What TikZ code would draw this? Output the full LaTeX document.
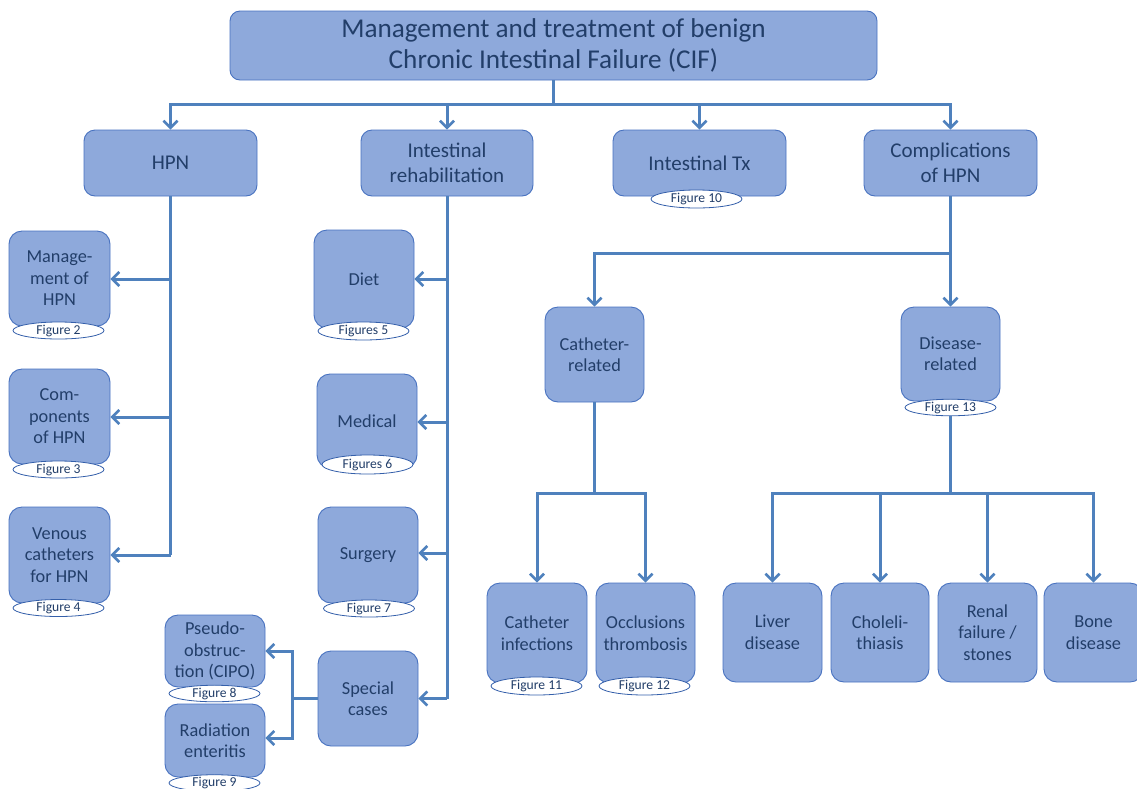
\documentclass[tikz,border=0pt]{standalone}
\usepackage{fontspec}
\setmainfont{Carlito}
\usetikzlibrary{arrows.meta,shapes.geometric}
\definecolor{boxfill}{RGB}{142,169,219}
\definecolor{boxdraw}{RGB}{72,114,192}
\definecolor{txt}{RGB}{34,62,105}
\definecolor{conncol}{RGB}{79,129,189}
\definecolor{figdraw}{RGB}{52,95,170}
\begin{document}
\begin{tikzpicture}[x=1pt,y=-1pt,
  box/.style={draw=boxdraw, line width=0.9pt, fill=boxfill, rounded corners=13pt,
    text=txt, align=center, inner sep=0pt,
    font=\fontsize{18.3}{21.5}\selectfont},
  midbox/.style={box, rounded corners=11pt, font=\fontsize{21}{25}\selectfont},
  bigbox/.style={box, rounded corners=10pt, font=\fontsize{27.2}{31.5}\selectfont},
  figlab/.style={draw=figdraw, line width=0.8pt, fill=white, ellipse, inner sep=0pt,
    minimum width=91pt, minimum height=17pt, text=txt,
    font=\fontsize{13.6}{14}\selectfont},
  conn/.style={draw=conncol, line width=3pt},
  arr/.style={conn, -{Straight Barb[length=7pt,width=14pt,line width=2.6pt]}}
]
\useasboundingbox (0,0) rectangle (1137,788);

% boxes
\node[bigbox, minimum width=647pt, minimum height=69pt] (title) at (553.5,45.5)
  {Management and treatment of benign\\Chronic Intestinal Failure (CIF)};
\node[midbox, minimum width=173pt, minimum height=66pt] (hpn) at (170.5,163) {HPN};
\node[midbox, minimum width=172pt, minimum height=66pt] (ir) at (447,163) {Intestinal\\rehabilitation};
\node[midbox, minimum width=173pt, minimum height=66pt] (tx) at (699.5,163) {Intestinal Tx};
\node[midbox, minimum width=173pt, minimum height=66pt] (comp) at (950.5,163) {Complications\\of HPN};

\node[box, minimum width=101pt, minimum height=95pt] (mgmt) at (59.5,278.5) {Manage-\\ment of\\HPN};
\node[box, minimum width=101pt, minimum height=95pt] (compo) at (59.5,416.5) {Com-\\ponents\\of HPN};
\node[box, minimum width=101pt, minimum height=96pt] (venous) at (59.5,555) {Venous\\catheters\\for HPN};

\node[box, minimum width=100pt, minimum height=98pt] (diet) at (364,279) {Diet};
\node[box, minimum width=100pt, minimum height=94pt] (medical) at (367,421) {Medical};
\node[box, minimum width=100pt, minimum height=96pt] (surgery) at (368,555) {Surgery};
\node[box, minimum width=100pt, minimum height=95pt] (special) at (368,698.5) {Special\\cases};
\node[box, minimum width=100pt, minimum height=72pt] (pseudo) at (215,651) {Pseudo-\\obstruc-\\tion (CIPO)};
\node[box, minimum width=100pt, minimum height=73pt] (radiation) at (215,740.5) {Radiation\\enteritis};

\node[box, minimum width=99pt, minimum height=95pt] (catrel) at (594.5,354.5) {Catheter-\\related};
\node[box, minimum width=99pt, minimum height=94pt] (disrel) at (950.5,354) {Disease-\\related};

\node[box, minimum width=100pt, minimum height=100pt] (catinf) at (537,633) {Catheter\\infections};
\node[box, minimum width=99pt, minimum height=100pt] (occl) at (645.5,633) {Occlusions\\thrombosis};

\node[box, minimum width=99pt, minimum height=99pt] (liver) at (772.5,632.5) {Liver\\disease};
\node[box, minimum width=98pt, minimum height=99pt] (chole) at (880,632.5) {Choleli-\\thiasis};
\node[box, minimum width=99pt, minimum height=99pt] (renal) at (987.5,632.5) {Renal\\failure /\\stones};
\node[box, minimum width=99pt, minimum height=99pt] (bone) at (1093.5,632.5) {Bone\\disease};

% figure labels
\node[figlab] (f2) at (58.5,330.5) {Figure 2};
\node[figlab] (f3) at (58.5,469.5) {Figure 3};
\node[figlab] (f4) at (58.5,608) {Figure 4};
\node[figlab, minimum height=18pt] (f5) at (363.5,331) {Figures 5};
\node[figlab, minimum height=19pt] (f6) at (367.5,464.5) {Figures 6};
\node[figlab] (f7) at (369,608.5) {Figure 7};
\node[figlab, minimum height=15pt] (f8) at (214.5,693.5) {Figure 8};
\node[figlab, minimum height=16pt] (f9) at (214.5,783) {Figure 9};
\node[figlab, minimum height=18pt] (f10) at (696.5,199) {Figure 10};
\node[figlab, minimum height=18pt] (f11) at (536.5,686) {Figure 11};
\node[figlab, minimum height=18pt] (f12) at (644.5,686) {Figure 12};
\node[figlab, minimum height=15pt] (f13) at (950.5,407.5) {Figure 13};

% connectors: top level
\coordinate (top) at (553.5,104);
\draw[conn] (title.south) -- (top);
\draw[arr] (top) -| (hpn.north);
\draw[arr] (top) -| (comp.north);
\draw[arr] (top -| ir.north) -- (ir.north);
\draw[arr] (top -| tx.north) -- (tx.north);

% HPN
\coordinate (hpnspine) at (170.5,0);
\draw[conn] (hpn.south) -- (hpnspine |- 0,555);
\draw[arr] (hpnspine |- 0,555) -- (venous.east |- 0,555);
\draw[arr] (hpnspine |- 0,279) -- (mgmt.east |- 0,279);
\draw[arr] (hpnspine |- 0,417) -- (compo.east |- 0,417);

% Intestinal rehabilitation
\coordinate (irspine) at (447,0);
\draw[conn] (ir.south) -- (irspine |- 0,698.5);
\draw[arr] (irspine |- 0,698.5) -- (special.east);
\draw[arr] (irspine |- 0,279) -- (diet.east |- 0,279);
\draw[arr] (irspine |- 0,422) -- (medical.east |- 0,422);
\draw[arr] (irspine |- 0,553) -- (surgery.east |- 0,553);

% Special cases
\coordinate (sj) at (292,698.5);
\draw[conn] (special.west) -- (sj);
\draw[arr] (sj) |- (pseudo.east);
\draw[arr] (sj) |- (radiation.east |- 0,738);

% Complications
\coordinate (cj) at (950.5,253);
\draw[conn] (comp.south) -- (cj);
\draw[arr] (cj) -| (catrel.north);
\draw[arr] (cj) -- (disrel.north);

% Catheter-related
\coordinate (cb) at (594.5,493);
\draw[conn] (catrel.south) -- (cb);
\draw[arr] (cb) -| (catinf.north);
\draw[arr] (cb) -| (occl.north);

% Disease-related
\coordinate (db) at (950.5,493);
\draw[conn] (f13.south) -- (db);
\draw[arr] (db) -| (liver.north);
\draw[arr] (db) -| (chole.north);
\draw[arr] (db) -| (renal.north);
\draw[arr] (db) -| (bone.north);
\end{tikzpicture}
\end{document}
